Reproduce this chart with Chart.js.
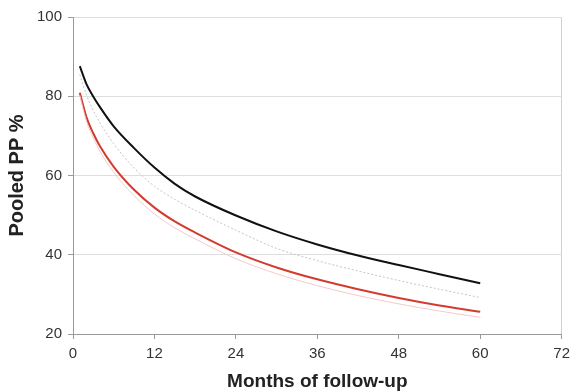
<!DOCTYPE html>
<html>
<head>
<meta charset="utf-8">
<script src="https://cdn.jsdelivr.net/npm/chart.js@4"></script>
<style>
  html, body { margin: 0; padding: 0; background: #fff; }
  #wrap { width: 576px; height: 392px; }
</style>
</head>
<body>
<div id="wrap"><canvas id="ppchart"></canvas></div>
<script>
// months of follow-up
var months = [1, 2, 3, 4, 6, 9, 12, 15, 18, 24, 30, 36, 42, 48, 54, 60];
// pooled PP % curves
var blackLine = [87.6, 83.0, 79.9, 77.2, 72.4, 66.9, 62.0, 57.9, 54.7, 49.9, 45.9, 42.6, 39.8, 37.4, 35.1, 32.8];
var greyLine  = [85.5, 80.2, 76.3, 73.2, 68.0, 61.9, 57.3, 54.0, 51.2, 46.2, 41.6, 38.5, 35.9, 33.5, 31.3, 29.2];
var redLine   = [80.9, 74.6, 70.6, 67.3, 62.2, 56.4, 51.9, 48.4, 45.6, 40.6, 36.8, 33.8, 31.3, 29.1, 27.2, 25.6];
var pinkLine  = [80.2, 73.6, 69.5, 66.0, 60.8, 54.9, 50.3, 46.8, 44.0, 39.0, 35.2, 32.2, 29.7, 27.6, 25.8, 24.2];
var xTicks = [0, 12, 24, 36, 48, 60, 72];
var yTicks = [20, 40, 60, 80, 100];

function pts(vals) {
    return months.map(function(m, i) { return {x: m, y: vals[i]}; });
}

document.addEventListener("DOMContentLoaded", function() {
    var ctx = document.getElementById('ppchart').getContext('2d');
    Chart.defaults.font.family = "'Liberation Sans', Arial, sans-serif";
    new Chart(ctx, {
        type: 'line',
        data: {
            datasets: [
                {data: pts(pinkLine), borderColor: '#f3caca', borderWidth: 1},
                {data: pts(greyLine), borderColor: '#c4c4c4', borderWidth: 1, borderDash: [2, 2]},
                {data: pts(redLine), borderColor: '#d43b2f', borderWidth: 2},
                {data: pts(blackLine), borderColor: '#111111', borderWidth: 2}
            ]
        },
        options: {
            responsive: true,
            maintainAspectRatio: false,
            animation: false,
            layout: {padding: {top: 17, right: 10, left: 0, bottom: 0}},
            elements: {
                point: {radius: 0},
                line: {cubicInterpolationMode: 'monotone', fill: false}
            },
            plugins: {legend: {display: false}, tooltip: {enabled: false}},
            scales: {
                x: {
                    type: 'linear', min: 0, max: 72,
                    afterBuildTicks: function(s) { s.ticks = xTicks.map(function(v) { return {value: v}; }); },
                    afterFit: function(s) { s.height = 58; },
                    grid: {
                        color: function(c) { return c.tick && c.tick.value === 72 ? '#cfcfcf' : 'rgba(0,0,0,0)'; },
                        tickColor: '#999', tickLength: 5
                    },
                    border: {color: '#999'},
                    ticks: {color: '#333', font: {size: 15}, padding: 6, maxRotation: 0},
                    title: {display: true, text: 'Months of follow-up', color: '#222',
                            font: {size: 19, weight: 'bold'}, padding: {top: 0, bottom: -1}}
                },
                y: {
                    min: 20, max: 100,
                    afterBuildTicks: function(s) { s.ticks = yTicks.map(function(v) { return {value: v}; }); },
                    afterFit: function(s) { s.width = 73; },
                    grid: {color: '#dedede', tickColor: '#999', tickLength: 5},
                    border: {color: '#999'},
                    ticks: {color: '#333', font: {size: 15}, padding: 6},
                    title: {display: true, text: 'Pooled PP %', color: '#222',
                            font: {size: 20, weight: 'bold'}, padding: {top: 5, bottom: 0}}
                }
            }
        }
    });
});
</script>
</body>
</html>
